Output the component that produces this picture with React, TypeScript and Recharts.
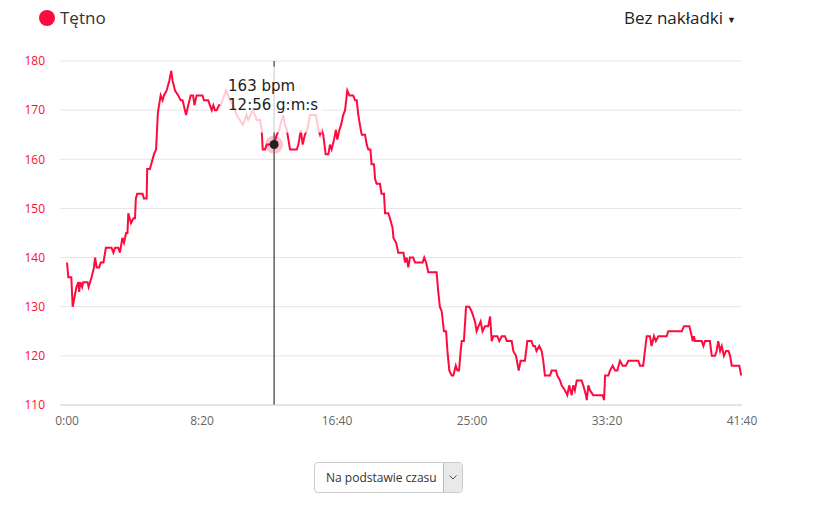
import React from "react";
import { LineChart, Line, XAxis, YAxis, CartesianGrid, ReferenceLine, ReferenceDot } from "recharts";

// czas (s) i tętno (bpm)
const seconds = [
  0, 5, 16, 21, 28, 35, 42, 45, 49, 56, 60, 76, 80, 91, 100, 104, 110, 119, 125, 135,
  144, 165, 172, 178, 190, 196, 205, 211, 219, 224, 227, 237, 246, 252, 255, 260, 280, 285, 295, 297,
  307, 312, 322, 330, 336, 338, 347, 354, 359, 369, 379, 386, 391, 400, 412, 421, 428, 441, 449, 458,
  467, 472, 480, 502, 507, 523, 536, 542, 548, 554, 563, 569, 589, 597, 604, 616, 628, 640, 651, 659,
  665, 671, 680, 688, 696, 703, 715, 721, 725, 733, 740, 758, 767, 777, 786, 795, 801, 807, 814, 820,
  826, 851, 857, 866, 873, 881, 890, 900, 922, 931, 937, 943, 949, 958, 968, 974, 980, 989, 996, 1001,
  1009, 1015, 1023, 1030, 1038, 1046, 1051, 1060, 1067, 1073, 1079, 1088, 1092, 1104, 1110, 1116, 1124, 1128, 1137, 1141,
  1147, 1159, 1165, 1174, 1178, 1190, 1196, 1206, 1209, 1219, 1227, 1246, 1252, 1258, 1264, 1270, 1282, 1289, 1317, 1323,
  1330, 1338, 1369, 1375, 1381, 1388, 1396, 1404, 1409, 1416, 1425, 1431, 1440, 1446, 1452, 1458, 1462, 1470, 1478, 1490,
  1499, 1505, 1511, 1517, 1524, 1532, 1539, 1548, 1560, 1567, 1573, 1579, 1594, 1601, 1610, 1622, 1629, 1647, 1653, 1663,
  1673, 1680, 1696, 1705, 1711, 1720, 1727, 1733, 1739, 1749, 1758, 1764, 1770, 1789, 1795, 1811, 1816, 1826, 1832, 1844,
  1853, 1860, 1869, 1875, 1881, 1888, 1906, 1912, 1922, 1925, 1931, 1937, 1949, 1984, 1989, 1993, 2005, 2011, 2021, 2030,
  2038, 2048, 2058, 2070, 2079, 2116, 2122, 2134, 2147, 2159, 2165, 2174, 2181, 2190, 2221, 2227, 2277, 2285, 2305, 2314,
  2317, 2322, 2326, 2351, 2357, 2363, 2381, 2388, 2400, 2406, 2412, 2419, 2425, 2433, 2441, 2450, 2456, 2462, 2490, 2497,
];
const heartRate = [
  139, 136, 136, 130, 132, 134, 135, 133, 135, 134, 135, 135, 134, 136, 138, 140, 138, 138, 139, 139,
  142, 142, 141, 142, 142, 141, 144, 143, 145, 145, 149, 147, 148, 148, 152, 153, 153, 152, 152, 158,
  158, 159, 161, 162, 169, 170, 173, 172, 173, 174, 176, 178, 176, 174, 173, 172, 172, 169, 171, 173,
  173, 171, 173, 173, 172, 172, 170, 171, 170, 170, 171, 171, 174, 173, 172, 171, 169, 168, 167, 168,
  169, 168, 169, 170, 169, 168, 168, 166, 162, 162, 163, 163, 163, 165, 166, 168, 169, 167, 166, 164,
  162, 162, 163, 166, 163, 165, 166, 169, 169, 166, 165, 166, 165, 161, 161, 163, 162, 164, 166, 164,
  166, 167, 169, 170, 174, 173, 173, 173, 172, 172, 169, 166, 165, 165, 163, 162, 162, 159, 159, 156,
  155, 155, 153, 153, 149, 149, 148, 146, 144, 143, 141, 141, 139, 140, 138, 140, 140, 139, 139, 140,
  139, 137, 137, 133, 130, 129, 125, 125, 121, 117, 116, 116, 118, 117, 117, 121, 123, 123, 130, 130,
  129, 128, 127, 125, 126, 127, 125, 126, 126, 128, 123, 124, 124, 123, 124, 124, 123, 123, 121, 120,
  117, 119, 119, 123, 123, 123, 122, 122, 121, 122, 121, 119, 116, 116, 117, 117, 116, 115, 114, 113,
  112, 114, 112, 114, 113, 115, 115, 114, 112, 111, 114, 113, 112, 112, 111, 116, 116, 117, 118, 117,
  117, 119, 118, 118, 119, 119, 118, 118, 124, 124, 122, 124, 123, 124, 124, 125, 125, 126, 126, 124,
  123, 124, 123, 123, 122, 123, 123, 120, 120, 121, 123, 121, 122, 120, 121, 121, 120, 118, 118, 116,
];
const xTicks = [0, 500, 1000, 1500, 2000, 2500];
const yTicks = [110, 120, 130, 140, 150, 160, 170, 180];

const hoverIndex = 92;
const hoverTimeLabel = "12:56";

const RED = "#ff0a3c";
const FONT = "'Open Sans', sans-serif";
const TIP_FONT = "'DejaVu Sans', sans-serif";

const rows = seconds.map((t, i) => ({ t, bpm: heartRate[i] }));
const mmss = (v: number) => `${Math.floor(v / 60)}:${String(v % 60).padStart(2, "0")}`;

// tooltip: półprzezroczyste tło, znacznik punktu i tekst
const TipMarker = (p: any) => (
  <g>
    <rect x={p.cx - 54} y={p.cy - 78} width={102} height={66} fill="#fff" fillOpacity={0.78} />
    <circle cx={p.cx} cy={p.cy} r={9} fill={RED} fillOpacity={0.25} />
    <circle cx={p.cx} cy={p.cy} r={4.5} fill="#222" />
    <text x={p.cx - 46} y={p.cy - 54} fontSize={15} fill="#222" fontFamily={TIP_FONT}>
      {heartRate[hoverIndex]} bpm
    </text>
    <text x={p.cx - 46} y={p.cy - 35} fontSize={15} fill="#222" fontFamily={TIP_FONT}>
      {hoverTimeLabel} g:m:s
    </text>
  </g>
);

export default function App() {
  return (
    <div style={{ position: "fixed", left: 0, top: 0, width: 832, height: 531, background: "#fff", fontFamily: FONT }}>
      <div style={{ position: "absolute", left: 39, top: 6, display: "flex", alignItems: "center", fontSize: 17, color: "#333" }}>
        <span style={{ width: 16, height: 16, borderRadius: 8, background: RED, display: "inline-block", marginRight: 5 }} />
        Tętno
      </div>
      <div style={{ position: "absolute", left: 624, top: 6, fontSize: 17, color: "#222" }}>
        Bez nakładki<span style={{ fontSize: 9, verticalAlign: "middle", marginLeft: 4 }}>▼</span>
      </div>

      <LineChart width={832} height={531} data={rows} margin={{ top: 61, right: 90, bottom: 96, left: 0 }}>
        <CartesianGrid vertical={false} stroke="#e6e6e6" />
        <XAxis
          dataKey="t"
          type="number"
          domain={[0, 2500]}
          ticks={xTicks}
          tickFormatter={mmss}
          padding={{ left: 7, right: 0 }}
          height={30}
          stroke="#ccd6eb"
          tickLine={false}
          tickSize={0}
          tickMargin={11}
          tick={{ fill: "#666", fontSize: 12, fontFamily: FONT }}
        />
        <YAxis
          domain={[110, 180]}
          ticks={yTicks}
          width={60}
          axisLine={false}
          tickLine={false}
          tickSize={0}
          tickMargin={15}
          tick={{ fill: RED, fontSize: 12, fontFamily: FONT }}
        />
        <Line type="linear" dataKey="bpm" stroke={RED} strokeWidth={2} dot={false} isAnimationActive={false} />
        <ReferenceLine x={seconds[hoverIndex]} stroke="#111" strokeWidth={1} />
        <ReferenceDot x={seconds[hoverIndex]} y={heartRate[hoverIndex]} shape={TipMarker} />
      </LineChart>

      <div
        style={{
          position: "absolute", left: 314, top: 462, width: 149, height: 31, border: "1px solid #ccc",
          borderRadius: 4, boxSizing: "border-box", fontSize: 12, color: "#333", display: "flex", alignItems: "center",
          overflow: "hidden",
        }}
      >
        <span style={{ paddingLeft: 11, flex: 1 }}>Na podstawie czasu</span>
        <span
          style={{
            width: 18, height: "100%", background: "#e9e9e9", borderLeft: "1px solid #bbb",
            display: "flex", alignItems: "center", justifyContent: "center",
          }}
        >
          <svg width={8} height={5}>
            <polyline points="0.5,0.5 4,4 7.5,0.5" fill="none" stroke="#555" strokeWidth={1} />
          </svg>
        </span>
      </div>
    </div>
  );
}
